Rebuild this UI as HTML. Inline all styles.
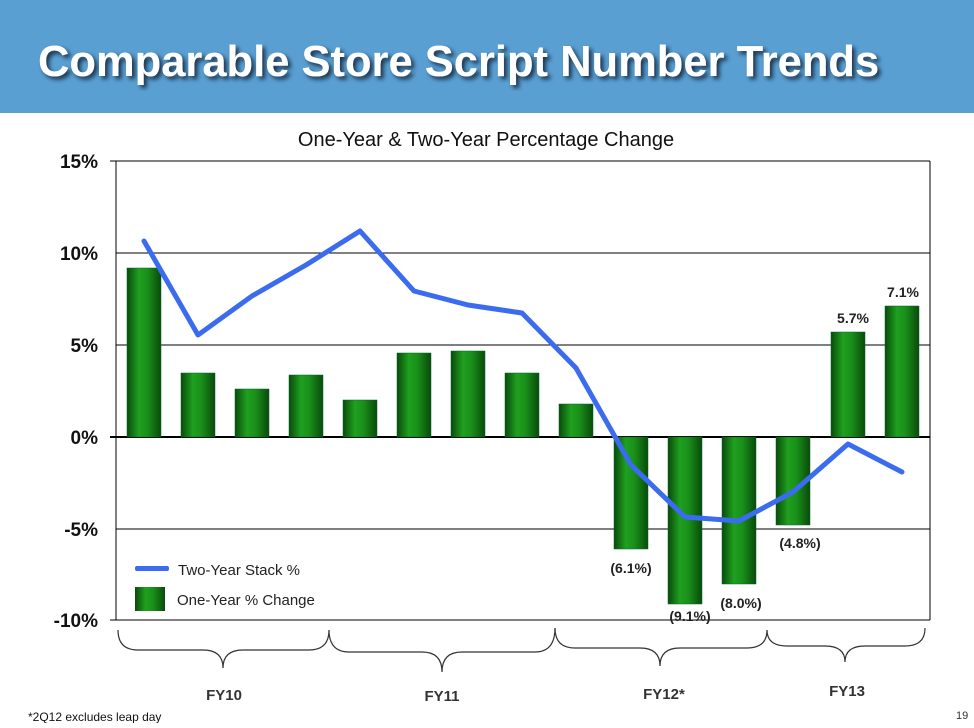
<!DOCTYPE html>
<html><head><meta charset="utf-8"><style>
body{margin:0;width:974px;height:723px;overflow:hidden;background:#fff;font-family:"Liberation Sans",Arial,sans-serif}
</style></head><body>
<svg width="974" height="723" xmlns="http://www.w3.org/2000/svg" font-family="Liberation Sans, Arial, sans-serif">
<defs>
<linearGradient id="g" x1="0" x2="1" y1="0" y2="0">
<stop offset="0" stop-color="#0a4a0a"/><stop offset="0.35" stop-color="#1fa01f"/><stop offset="0.6" stop-color="#19901a"/><stop offset="1" stop-color="#0a4a0a"/>
</linearGradient>
<filter id="sh"><feDropShadow dx="3" dy="3" stdDeviation="2" flood-color="#123" flood-opacity="0.85"/></filter>
</defs>
<rect x="0" y="0" width="974" height="113" fill="#5a9fd2"/>
<text x="38" y="76" font-size="43.5" font-weight="bold" fill="#fff" filter="url(#sh)">Comparable Store Script Number Trends</text>
<text x="486" y="146" font-size="20" text-anchor="middle" fill="#111">One-Year &amp; Two-Year Percentage Change</text>
<g stroke="#000" stroke-width="1">
<line x1="110" y1="161" x2="930" y2="161"/>
<line x1="116" y1="253" x2="930" y2="253"/>
<line x1="116" y1="345" x2="930" y2="345"/>
<line x1="116" y1="529" x2="930" y2="529"/>
<line x1="110" y1="620" x2="930" y2="620"/>
<line x1="116" y1="161" x2="116" y2="620"/>
<line x1="930" y1="161" x2="930" y2="620"/>
<line x1="110" y1="437" x2="930" y2="437" stroke-width="2"/>
</g>
<g font-size="19" font-weight="bold" text-anchor="end" fill="#111">
<text x="98" y="168">15%</text><text x="98" y="260">10%</text><text x="98" y="352">5%</text>
<text x="98" y="444">0%</text><text x="98" y="536">-5%</text><text x="98" y="627">-10%</text>
</g>
<g fill="url(#g)" stroke="#063" stroke-width="0.5">
<rect x="127" y="268" width="34" height="169"/>
<rect x="181" y="373" width="34" height="64"/>
<rect x="235" y="389" width="34" height="48"/>
<rect x="289" y="375" width="34" height="62"/>
<rect x="343" y="400" width="34" height="37"/>
<rect x="397" y="353" width="34" height="84"/>
<rect x="451" y="351" width="34" height="86"/>
<rect x="505" y="373" width="34" height="64"/>
<rect x="559" y="404" width="34" height="33"/>
<rect x="614" y="437" width="34" height="112"/>
<rect x="668" y="437" width="34" height="167"/>
<rect x="722" y="437" width="34" height="147"/>
<rect x="776" y="437" width="34" height="88"/>
<rect x="831" y="332" width="34" height="105"/>
<rect x="885" y="306" width="34" height="131"/>
</g>
<polyline fill="none" stroke="#3b6cf0" stroke-width="5" stroke-linejoin="round" stroke-linecap="round"
points="144,241 198,335 252,296 306,265 360,231 414,291 468,305 522,313 576,368 631,465 685,517 739,521 793,492 848,444 902,472"/>
<g font-size="14" font-weight="bold" text-anchor="middle" fill="#222">
<text x="631" y="573">(6.1%)</text><text x="690" y="621">(9.1%)</text><text x="741" y="608">(8.0%)</text>
<text x="800" y="548">(4.8%)</text><text x="853" y="323">5.7%</text><text x="903" y="297">7.1%</text>
</g>
<rect x="135" y="566" width="34" height="5" rx="2" fill="#3b6cf0"/>
<text x="178" y="575" font-size="15" fill="#222">Two-Year Stack %</text>
<rect x="135" y="587" width="30" height="24" fill="url(#g)"/>
<text x="177" y="605" font-size="15" fill="#222">One-Year % Change</text>
<g fill="none" stroke="#333" stroke-width="1.2">
<path d="M118,630 Q118,650 138,650 L203,650 Q223,650 223,668 Q223,650 243,650 L309,650 Q329,650 329,630"/>
<path d="M329,630 Q329,652 349,652 L422,652 Q442,652 442,672 Q442,652 462,652 L535,652 Q555,652 555,628"/>
<path d="M555,628 Q555,648 575,648 L640,648 Q660,648 660,666 Q660,648 680,648 L747,648 Q767,648 767,630"/>
<path d="M767,630 Q767,646 787,646 L825,646 Q845,646 845,662 Q845,646 865,646 L905,646 Q925,646 925,628"/>
</g>
<g font-size="15" font-weight="bold" text-anchor="middle" fill="#333">
<text x="224" y="700">FY10</text><text x="442" y="701">FY11</text><text x="664" y="699">FY12*</text><text x="847" y="696">FY13</text>
</g>
<text x="28" y="721" font-size="12" fill="#111">*2Q12 excludes leap day</text>
<text x="956" y="719" font-size="11" fill="#333">19</text>
</svg>
</body></html>
